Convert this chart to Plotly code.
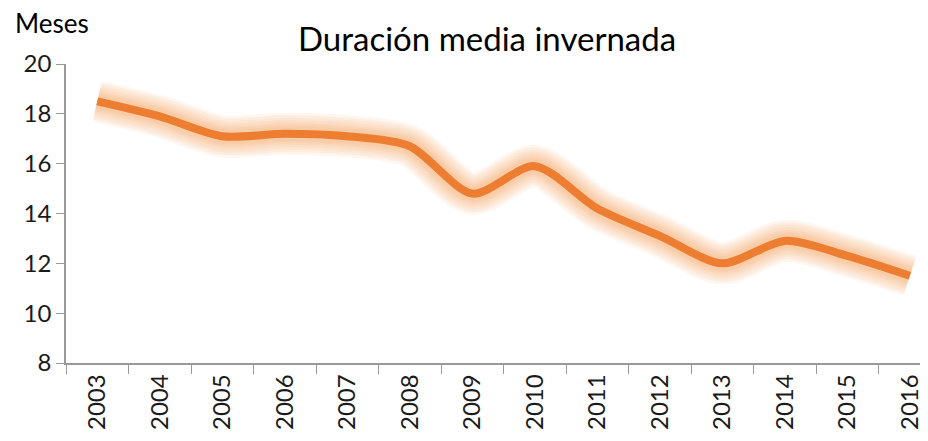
import plotly.graph_objects as go

years = ["2003", "2004", "2005", "2006", "2007", "2008", "2009",
         "2010", "2011", "2012", "2013", "2014", "2015", "2016"]
months = [18.5, 17.9, 17.1, 17.2, 17.1, 16.7, 14.8,
          15.9, 14.2, 13.1, 12.0, 12.9, 12.3, 11.5]
y_ticks = [8, 10, 12, 14, 16, 18, 20]

fig = go.Figure()
# glow layers
for w in [42, 37, 32, 27, 22, 18, 14]:
    fig.add_trace(go.Scatter(
        x=years, y=months, mode="lines",
        line=dict(color="rgba(248,150,70,0.085)", width=w, shape="spline", smoothing=0.8),
        hoverinfo="skip", showlegend=False))
fig.add_trace(go.Scatter(
    x=years, y=months, mode="lines",
    line=dict(color="#ED7D31", width=8, shape="spline", smoothing=0.8),
    showlegend=False))

# page body has an 8px margin, so the figure is sized to fit the window
W, H = 920, 433
L, T = 58, 56
fig.update_layout(
    width=W, height=H,
    margin=dict(l=L, r=0, t=T, b=78),
    paper_bgcolor="white", plot_bgcolor="white",
    font=dict(family="Lato, sans-serif", color="#1a1a1a", size=24),
    annotations=[
        dict(text="Duración media invernada", xref="paper", yref="paper",
             x=(479 - L) / (W - L), y=1.0, xanchor="center", yanchor="bottom",
             yshift=4, showarrow=False, font=dict(size=33, color="black")),
        dict(text="Meses", xref="paper", yref="paper", x=(5 - L) / (W - L), y=1.0,
             xanchor="left", yanchor="bottom", yshift=23, showarrow=False,
             font=dict(size=26, color="black")),
    ],
)
fig.update_xaxes(
    type="category", range=[-0.5, 13.29], showline=True, linecolor="#999",
    linewidth=1.5, ticks="outside", tickson="boundaries", ticklen=9,
    tickcolor="#999", tickangle=-90, showgrid=False, zeroline=False,
    automargin=False, tickfont=dict(size=24))
fig.update_yaxes(
    range=[8, 20], tickvals=y_ticks, showline=True, linecolor="#999",
    linewidth=1.5, ticks="outside", ticklen=8, tickcolor="#999",
    showgrid=False, zeroline=False, automargin=False, tickfont=dict(size=24))

fig.write_html("out.html")
